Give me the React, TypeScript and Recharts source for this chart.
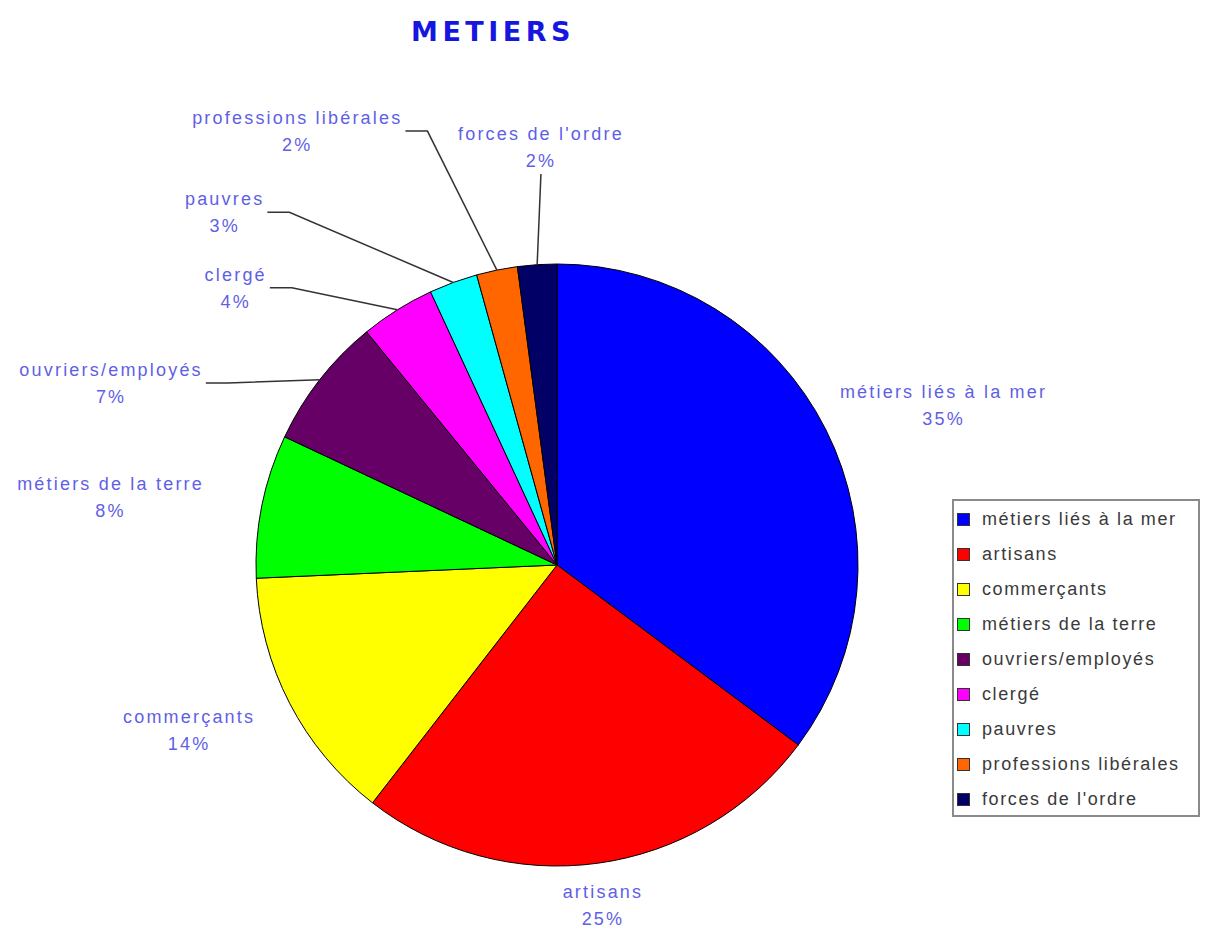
import { PieChart, Pie, Cell, Legend } from "recharts";

const categories = [
  "métiers liés à la mer",
  "artisans",
  "commerçants",
  "métiers de la terre",
  "ouvriers/employés",
  "clergé",
  "pauvres",
  "professions libérales",
  "forces de l'ordre",
];
const shares = [35.2, 25.3, 13.8, 7.7, 7.1, 4.0, 2.6, 2.2, 2.1];
const colors = ["#0000ff", "#ff0000", "#ffff00", "#00ff00", "#660066", "#ff00ff", "#00ffff", "#ff6600", "#000066"];

// label placement: angle clockwise from 12 o'clock, distance in pie radii, leader line kind
const labelAngle = [67.5, 172.3, 245.8, 278.6, 292.2, 310.8, 316.7, 329.1, 357.8];
const labelDist = [1.39, 1.14, 1.34, 1.5, 1.6, 1.41, 1.61, 1.68, 1.39];
const leader = ["", "", "", "", "side", "side", "side", "side", "below"];

const data = categories.map((name, i) => ({ name, value: shares[i] }));

const RAD = Math.PI / 180;
const LABEL_SPACING = 2.2;
let ctx: CanvasRenderingContext2D | null = null;
function textWidth(s: string) {
  if (!ctx) ctx = document.createElement("canvas").getContext("2d");
  ctx!.font = "18px 'Liberation Sans'";
  return ctx!.measureText(s).width + s.length * LABEL_SPACING;
}

function renderLabel(p: any) {
  const { cx, cy, midAngle, outerRadius, percent, index } = p;
  const a = labelAngle[index] * RAD;
  const r = labelDist[index] * outerRadius;
  const x = cx + r * Math.sin(a);
  const y = cy - r * Math.cos(a);
  const ex = cx + outerRadius * Math.cos(-midAngle * RAD);
  const ey = cy + outerRadius * Math.sin(-midAngle * RAD);
  let line = null;
  if (leader[index] === "side") {
    const sx = x + textWidth(categories[index]) / 2 + 3;
    line = <polyline points={`${sx},${y} ${sx + 22},${y} ${ex},${ey}`} fill="none" stroke="#333" strokeWidth={1.5} />;
  } else if (leader[index] === "below") {
    line = <polyline points={`${x},${y + 27} ${ex},${ey}`} fill="none" stroke="#333" strokeWidth={1.5} />;
  }
  return (
    <g key={`lbl-${index}`}>
      {line}
      <text
        x={x}
        textAnchor="middle"
        fill="#5f5fe6"
        style={{ fontFamily: "'Liberation Sans', Arial, sans-serif", fontSize: 18, letterSpacing: LABEL_SPACING }}
      >
        <tspan x={x} y={y - 7}>{categories[index]}</tspan>
        <tspan x={x} y={y + 20}>{`${Math.round(percent * 100)}%`}</tspan>
      </text>
    </g>
  );
}

const renderLegend = () => (
  <div
    style={{
      border: "2px solid #8a8a8a",
      background: "#fff",
      boxSizing: "border-box",
      width: 248,
      height: 318,
      padding: "1px 0 0 3px",
      fontFamily: "'Liberation Sans', Arial, sans-serif",
      fontSize: 18,
      letterSpacing: 1.6,
      color: "#3a3a3a",
      textAlign: "left",
    }}
  >
    {categories.map((c, i) => (
      <div key={c} style={{ height: 35, display: "flex", alignItems: "center", whiteSpace: "nowrap" }}>
        <span
          style={{ display: "inline-block", width: 11, height: 11, background: colors[i], border: "1px solid #333", marginRight: 12 }}
        />
        {c}
      </div>
    ))}
  </div>
);

export default function App() {
  return (
    <div style={{ position: "relative", width: 1192, height: 921, background: "#fff" }}>
      <div
        style={{
          position: "absolute",
          left: 385,
          top: 10,
          width: 200,
          textAlign: "center",
          fontFamily: "'DejaVu Sans', sans-serif",
          fontWeight: "bold",
          fontSize: 27,
          lineHeight: "27px",
          letterSpacing: 4.5,
          color: "#1616e0",
        }}
      >
        METIERS
      </div>
      <PieChart width={1192} height={921} margin={{ top: 0, right: 0, bottom: 0, left: 0 }}>
        <Pie
          data={data}
          dataKey="value"
          nameKey="name"
          cx={549}
          cy={557}
          outerRadius={301}
          startAngle={90}
          endAngle={-270}
          stroke="#000"
          strokeWidth={1}
          label={renderLabel}
          labelLine={false}
          isAnimationActive={false}
        >
          {data.map((d, i) => (
            <Cell key={d.name} fill={colors[i]} />
          ))}
        </Pie>
        <Legend content={renderLegend} wrapperStyle={{ left: 944, top: 491, width: 248, height: 318 }} />
      </PieChart>
    </div>
  );
}
